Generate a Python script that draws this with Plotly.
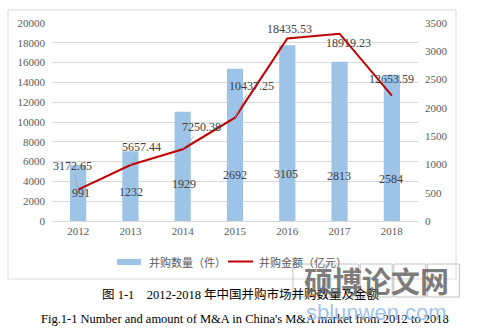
import plotly.graph_objects as go

years = ["2012", "2013", "2014", "2015", "2016", "2017", "2018"]
deal_count = [991, 1232, 1929, 2692, 3105, 2813, 2584]
deal_amount = [3172.65, 5657.44, 7250.38, 10437.25, 18435.53, 18919.23, 12653.59]
count_name = "并购数量（件）"
amount_name = "并购金额（亿元）"
caption_cn = "图 1-1    2012-2018 年中国并购市场并购数量及金额"
caption_en = "Fig.1-1 Number and amount of M&A in China's M&A market from 2012 to 2018"

W, H = 480, 333
L, R, T, B = 52, 418, 23, 221
SERIF = "Liberation Serif, Times New Roman, Noto Sans CJK SC, serif"
CJK = "Liberation Serif, Noto Sans CJK SC, serif"

def px(x):
    return (x - L) / (R - L)

def py(y):
    return (B - y) / (B - T)

fig = go.Figure()
fig.add_trace(go.Bar(x=years, y=deal_count, yaxis="y", marker=dict(color="#9dc3e6", line=dict(width=0)),
                     width=0.31, name=count_name, showlegend=False))
fig.add_trace(go.Scatter(x=years, y=deal_amount, yaxis="y2", mode="lines",
                         line=dict(color="#c00000", width=2), name=amount_name, showlegend=False))

# line labels (offsets in px, leader flag)
line_off = [(-6, -24, True), (11, -18, True), (19, -22, True), (16, -32, True), (2, -9, False), (9, 9, False), (0, -17, False)]
anns = []
for i, (v, (dx, dy, lead)) in enumerate(zip(deal_amount, line_off)):
    txt = f"{v:.2f}"
    if lead:
        anns.append(dict(x=i, y=v, xref="x", yref="y2", text=txt, showarrow=True, ax=dx, ay=dy,
                         arrowhead=0, arrowwidth=0.8, arrowcolor="#a6a6a6", standoff=0,
                         font=dict(family=SERIF, size=12, color="#404040")))
    else:
        anns.append(dict(x=i, y=v, xref="x", yref="y2", text=txt, showarrow=False, xshift=dx, yshift=-dy,
                         font=dict(family=SERIF, size=12, color="#404040")))

# bar labels
bar_yshift = [28, 29, 37, 46, 47, 45, 42]
bar_xshift = [3, 1, 1, 0, -1, -1, -1]
for i, (c, ys, xs) in enumerate(zip(deal_count, bar_yshift, bar_xshift)):
    anns.append(dict(x=i, y=0, xref="x", yref="y2", text=str(c), showarrow=False, xshift=xs, yshift=ys,
                     font=dict(family=SERIF, size=12, color="#404040")))

# legend texts
anns.append(dict(x=px(147), y=py(262), xref="paper", yref="paper", text=count_name, showarrow=False,
                 xanchor="left", yanchor="middle", font=dict(family=CJK, size=11, color="#595959")))
anns.append(dict(x=px(257), y=py(262), xref="paper", yref="paper", text=amount_name, showarrow=False,
                 xanchor="left", yanchor="middle", font=dict(family=CJK, size=11, color="#595959")))
# captions
anns.append(dict(x=px(241), y=py(294), xref="paper", yref="paper", text=caption_cn, showarrow=False,
                 xanchor="center", yanchor="middle", font=dict(family=CJK, size=12.5, color="#000000")))
anns.append(dict(x=px(245), y=py(319), xref="paper", yref="paper", text=caption_en, showarrow=False,
                 xanchor="center", yanchor="middle", font=dict(family=SERIF, size=12.5, color="#000000")))
# watermark
anns.append(dict(x=px(376), y=py(280), xref="paper", yref="paper", text="硕博论文网", showarrow=False,
                 xanchor="center", yanchor="middle",
                 font=dict(family="Noto Sans CJK SC", size=29, color="rgba(100,100,100,0.85)", weight="bold")))
anns.append(dict(x=px(376), y=py(312), xref="paper", yref="paper", text="sblunwen.com", showarrow=False,
                 xanchor="center", yanchor="middle",
                 font=dict(family="Liberation Sans, Arial, sans-serif", size=22, color="rgba(140,185,235,0.85)")))

shapes = [
    dict(type="rect", xref="paper", yref="paper", x0=px(8), x1=px(456), y0=py(279), y1=py(10),
         line=dict(color="#d9d9d9", width=1), layer="below"),
    dict(type="rect", xref="paper", yref="paper", x0=px(117), x1=px(141), y0=py(265), y1=py(259),
         fillcolor="#9dc3e6", line=dict(width=0)),
    dict(type="line", xref="paper", yref="paper", x0=px(228), x1=px(253), y0=py(261.5), y1=py(261.5),
         line=dict(color="#c00000", width=2)),
]
for i in range(5):
    x0 = 293 + i * 33.6
    shapes.append(dict(type="rect", xref="paper", yref="paper", x0=px(x0), x1=px(x0 + 32), y0=py(297), y1=py(264),
                       line=dict(color="rgba(180,180,180,0.8)", width=1)))

fig.update_layout(
    width=W, height=H,
    margin=dict(l=L, r=W - R, t=T, b=H - B),
    paper_bgcolor="white", plot_bgcolor="white",
    xaxis=dict(type="category", range=[-0.5, len(years) - 0.5], showline=True, linecolor="#d9d9d9", linewidth=1,
               ticks="", tickfont=dict(family=SERIF, size=11, color="#595959"), showgrid=False),
    yaxis=dict(side="right", range=[0, 3500], dtick=500, tickformat="d", showgrid=False, zeroline=False,
               tickfont=dict(family=SERIF, size=11, color="#595959"), ticklabelstandoff=6),
    yaxis2=dict(side="left", overlaying="y", range=[0, 20000], dtick=2000, tickformat="d", showgrid=True,
                gridcolor="#d9d9d9", gridwidth=1, zeroline=False,
                tickfont=dict(family=SERIF, size=11, color="#595959"), ticklabelstandoff=6),
    annotations=anns, shapes=shapes, showlegend=False,
)

fig.write_html("out.html")
